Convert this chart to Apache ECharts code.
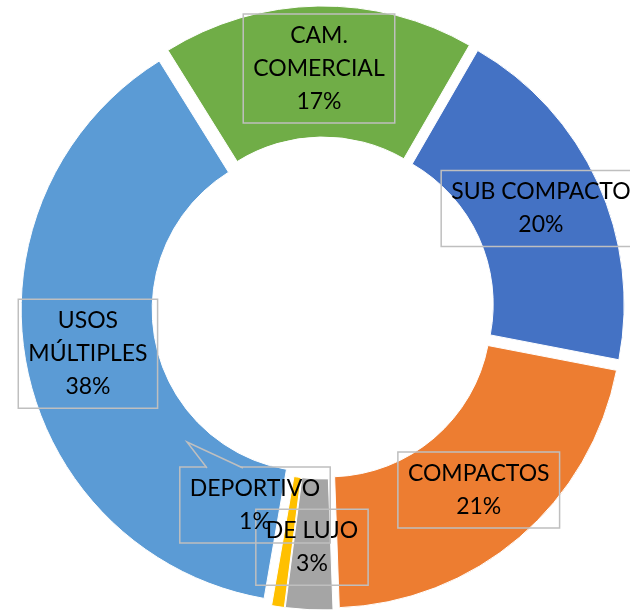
<!DOCTYPE html>
<html><head><meta charset="utf-8">
<script src="https://cdn.jsdelivr.net/npm/echarts@6/dist/echarts.min.js"></script>
<style>html,body{margin:0;padding:0;background:#fff}#c{width:630px;height:610px}</style>
</head><body><div id="c"></div>
<script>
const categories = ['SUB COMPACTO', 'COMPACTOS', 'DE LUJO', 'DEPORTIVO', 'USOS MÚLTIPLES', 'CAM. COMERCIAL'];
const shares = [19.7, 21.4, 2.6, 0.7, 38.4, 17.2];
const colors = ['#4472C4', '#ED7D31', '#A5A5A5', '#FFC000', '#5B9BD5', '#70AD47'];
const wrappedNames = { 'USOS MÚLTIPLES': 'USOS\nMÚLTIPLES', 'CAM. COMERCIAL': 'CAM.\nCOMERCIAL' };
// this small slice's label was dragged aside into a callout box in the original chart
const calloutName = 'DEPORTIVO';

const total = shares.reduce((a, b) => a + b, 0);
const pctText = v => Math.round(v / total * 100) + '%';
const labelText = (name, v) => (wrappedNames[name] || name) + '\n' + pctText(v);

const labelStyle = {
  fontFamily: 'Lato',
  fontSize: 23,
  lineHeight: 33,
  color: '#000',
  borderColor: '#BFBFBF',
  borderWidth: 1.5,
  padding: [5, 10, 5, 10]
};

const chart = echarts.init(document.getElementById('c'), null, { renderer: 'canvas' });
const data = categories.map((name, i) => {
  const item = { name: name, value: shares[i], selected: true, itemStyle: { color: colors[i] } };
  if (name === calloutName) item.label = { show: false };
  return item;
});
const ci = categories.indexOf(calloutName);
chart.setOption({
  animation: false,
  backgroundColor: '#fff',
  series: [{
    type: 'pie',
    center: [323, 308],
    radius: [162, 293],
    startAngle: 60,
    clockwise: true,
    selectedMode: 'multiple',
    selectedOffset: 9,
    avoidLabelOverlap: false,
    minShowLabelAngle: 0,
    emphasis: { disabled: true },
    select: { itemStyle: { borderColor: '#fff', borderWidth: 1 } },
    itemStyle: { borderColor: '#fff', borderWidth: 1 },
    label: Object.assign({
      show: true,
      position: 'inside',
      formatter: p => labelText(p.name, p.value),
      align: 'center'
    }, labelStyle),
    labelLayout: { hideOverlap: false },
    labelLine: { show: false },
    data: data
  }],
  graphic: [
    {
      type: 'text',
      x: 255, y: 505,
      z: 90,
      style: Object.assign({
        text: labelText(calloutName, shares[ci]),
        align: 'center',
        verticalAlign: 'middle',
        fill: '#000',
        font: '23px Lato'
      }, { lineHeight: 33, borderColor: '#BFBFBF', borderWidth: 1.5, padding: [5, 10, 5, 10] })
    },
    {
      type: 'polygon',
      z: 95,
      shape: { points: [[207, 468.8], [187, 442], [243, 468.8]] },
      style: { fill: colors[categories.indexOf('USOS MÚLTIPLES')], stroke: null }
    },
    {
      type: 'polyline',
      z: 100,
      shape: { points: [[207, 468], [187, 442], [243, 468]] },
      style: { stroke: '#BFBFBF', lineWidth: 1.5, fill: null }
    }
  ]
});
</script></body></html>
